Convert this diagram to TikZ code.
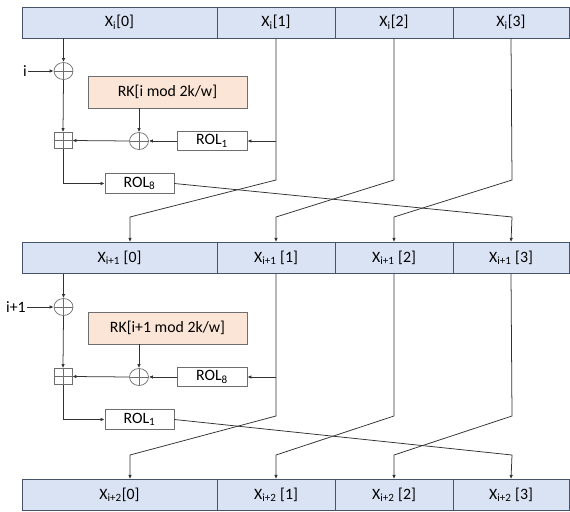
\documentclass[tikz,border=0pt]{standalone}
\usepackage{fontspec}
\setmainfont{Carlito}
\usetikzlibrary{arrows.meta,shapes.geometric,calc}
\definecolor{cellblue}{RGB}{218,227,243}
\definecolor{celledge}{RGB}{68,84,106}
\definecolor{keypeach}{RGB}{251,229,214}
\definecolor{boxedge}{RGB}{110,110,110}
\definecolor{wire}{RGB}{50,50,50}
\tikzset{
  cell/.style  ={draw=celledge,fill=cellblue,line width=0.8pt,minimum height=9.3mm,
                 inner sep=0pt,font=\fontsize{13.5}{15}\selectfont},
  keybox/.style={draw=boxedge,fill=keypeach,line width=0.6pt,minimum width=47.7mm,
                 minimum height=9.6mm,inner sep=0pt,font=\fontsize{13.5}{15}\selectfont},
  rolbox/.style={draw=boxedge,fill=white,line width=0.6pt,minimum width=21mm,
                 minimum height=5.8mm,inner sep=0pt,font=\fontsize{13.5}{15}\selectfont},
  xorop/.style ={draw=boxedge,ellipse,line width=0.6pt,minimum width=5.7mm,
                 minimum height=5.1mm,inner sep=0pt,
                 path picture={\draw[boxedge,line width=0.6pt]
                   (path picture bounding box.north) -- (path picture bounding box.south)
                   (path picture bounding box.west) -- (path picture bounding box.east);}},
  addop/.style ={draw=boxedge,rectangle,line width=0.6pt,minimum width=5.4mm,
                 minimum height=4.8mm,inner sep=0pt,
                 path picture={\draw[boxedge,line width=0.6pt]
                   (path picture bounding box.north) -- (path picture bounding box.south)
                   (path picture bounding box.west) -- (path picture bounding box.east);}},
  lbl/.style   ={font=\fontsize{13.5}{15}\selectfont,inner sep=1pt},
  flow/.style  ={-{Latex[length=3.5pt,width=3pt]},draw=wire,line width=0.65pt},
}

\begin{document}
\begin{tikzpicture}[x=0.03cm,y=-0.03cm]
  \useasboundingbox (0,0) rectangle (570,511);

  % word rows
  \node[cell,minimum width=58.5mm] (xi0) at (119.5,22.5) {X\textsubscript{i}[0]};
  \node[cell,minimum width=35.4mm] (xi1) at (276,22.5)   {X\textsubscript{i}[1]};
  \node[cell,minimum width=35.4mm] (xi2) at (394,22.5)   {X\textsubscript{i}[2]};
  \node[cell,minimum width=34.8mm] (xi3) at (511,22.5)   {X\textsubscript{i}[3]};

  \node[cell,minimum width=58.5mm] (xj0) at (119.5,258) {X\textsubscript{i+1} [0]};
  \node[cell,minimum width=35.4mm] (xj1) at (276,258)   {X\textsubscript{i+1} [1]};
  \node[cell,minimum width=35.4mm] (xj2) at (394,258)   {X\textsubscript{i+1} [2]};
  \node[cell,minimum width=34.8mm] (xj3) at (511,258)   {X\textsubscript{i+1} [3]};

  \node[cell,minimum width=58.5mm] (xk0) at (119.5,495) {X\textsubscript{i+2}[0]};
  \node[cell,minimum width=35.4mm] (xk1) at (276,495)   {X\textsubscript{i+2} [1]};
  \node[cell,minimum width=35.4mm] (xk2) at (394,495)   {X\textsubscript{i+2} [2]};
  \node[cell,minimum width=34.8mm] (xk3) at (511,495)   {X\textsubscript{i+2} [3]};

  % round i
  \node[lbl]    (ctra) at (25,71)     {i};
  \node[xorop]  (xora) at (63.5,71)   {};
  \node[keybox] (rka)  at (167.5,92)  {RK[i mod 2k/w]};
  \node[xorop]  (xorb) at (139,141)   {};
  \node[addop]  (adda) at (63,140.5)  {};
  \node[rolbox] (rola) at (212,141)   {ROL\textsubscript{1}};
  \node[rolbox,minimum width=20.7mm] (rolb) at (139.5,183.5) {ROL\textsubscript{8}};

  \coordinate (ba1) at (276,180);  \coordinate (ea1) at (130,217);
  \coordinate (ba2) at (394,180);  \coordinate (ea2) at (276,217);
  \coordinate (ba3) at (512,180);  \coordinate (ea3) at (394,217);
  \coordinate (ea4) at (512,217);

  \draw[flow] (xora.north |- xi0.south) -- (xora.north);
  \draw[flow] (ctra.east) -- (xora.west);
  \draw[flow] (xora.south) -- (adda.north);
  \draw[flow] (xorb.north |- rka.south) -- (xorb.north);
  \draw[flow] (xorb.west) -- (adda.east);
  \draw[flow] (rola.west) -- (xorb.east);
  \draw[flow] (ba1 |- rola.east) -- (rola.east);
  \draw[flow] (adda.south) |- (rolb.west);
  \draw[flow] (xi1.south) -- (ba1) -- (ea1) -- (ea1 |- xj0.north);
  \draw[flow] (xi2.south) -- (ba2) -- (ea2) -- (xj1.north);
  \draw[flow] (xi3.south) -- (ba3) -- (ea3) -- (xj2.north);
  \draw[flow] (rolb.east) -- (ea4) -- (xj3.north);

  % round i+1
  \node[lbl]    (ctrb) at (16,307)    {i+1};
  \node[xorop]  (xorc) at (63.5,307)  {};
  \node[keybox] (rkb)  at (167.5,328) {RK[i+1 mod 2k/w]};
  \node[xorop]  (xord) at (139,377)   {};
  \node[addop]  (addb) at (63,376.5)  {};
  \node[rolbox] (rolc) at (212,377)   {ROL\textsubscript{8}};
  \node[rolbox,minimum width=20.7mm] (rold) at (139.5,419.5) {ROL\textsubscript{1}};

  \coordinate (bb1) at (276,416);  \coordinate (eb1) at (130,455);
  \coordinate (bb2) at (394,416);  \coordinate (eb2) at (276,455);
  \coordinate (bb3) at (512,416);  \coordinate (eb3) at (394,455);
  \coordinate (eb4) at (512,455);

  \draw[flow] (xorc.north |- xj0.south) -- (xorc.north);
  \draw[flow] (ctrb.east) -- (xorc.west);
  \draw[flow] (xorc.south) -- (addb.north);
  \draw[flow] (xord.north |- rkb.south) -- (xord.north);
  \draw[flow] (xord.west) -- (addb.east);
  \draw[flow] (rolc.west) -- (xord.east);
  \draw[flow] (bb1 |- rolc.east) -- (rolc.east);
  \draw[flow] (addb.south) |- (rold.west);
  \draw[flow] (xj1.south) -- (bb1) -- (eb1) -- (eb1 |- xk0.north);
  \draw[flow] (xj2.south) -- (bb2) -- (eb2) -- (xk1.north);
  \draw[flow] (xj3.south) -- (bb3) -- (eb3) -- (xk2.north);
  \draw[flow] (rold.east) -- (eb4) -- (xk3.north);
\end{tikzpicture}
\end{document}
